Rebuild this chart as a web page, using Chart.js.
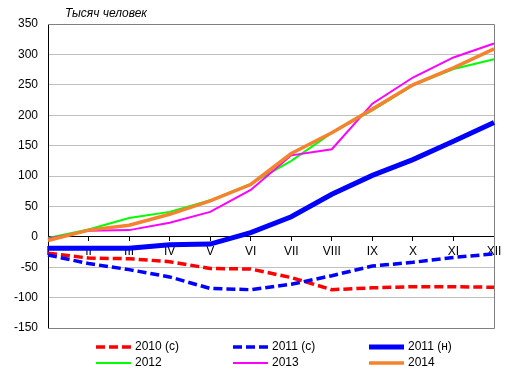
<!DOCTYPE html>
<html>
<head>
<meta charset="utf-8">
<script src="https://cdn.jsdelivr.net/npm/chart.js@4"></script>
<style>
html,body{margin:0;padding:0;background:#fff;}
#wrap{width:513px;height:382px;position:relative;}
</style>
</head>
<body>
<div id="wrap"><canvas id="c"></canvas></div>
<script>
const categories = ['I','II','III','IV','V','VI','VII','VIII','IX','X','XI','XII'];
const s2010c = [-27,-35,-36,-41,-52,-53,-67,-87,-84,-82,-82,-83];
const s2011c = [-30,-44,-54,-66,-85,-87,-78,-64,-48,-42,-34,-28];
const s2011n = [-19,-19,-19,-13,-12,7,33,70,101,127,157,188];
const s2012 = [-2,12,31,41,60,87,125,171,208,249,276,292];
const s2013 = [-3,10,11,23,41,77,134,144,219,262,295,318];
const s2014 = [-6,11,19,37,59,86,137,171,210,250,278,309];
const seriesLabels = ['2010 (с)','2011 (с)','2011 (н)','2012','2013','2014'];
const yTitle = 'Тысяч человек';

const FONT = '"Liberation Sans", Arial, sans-serif';

const styles = [
  {color:'#ff0000', width:3.5, dash:[9,4]},
  {color:'#0000ff', width:3.5, dash:[9,4]},
  {color:'#0000ff', width:5, dash:[]},
  {color:'#00ff00', width:2, dash:[]},
  {color:'#ff00ff', width:2, dash:[]},
  {color:'#f5822e', width:3.5, dash:[]}
];
const values = [s2010c, s2011c, s2011n, s2012, s2013, s2014];

const datasets = values.map((v,i)=>({
  label: seriesLabels[i],
  data: v,
  borderColor: styles[i].color,
  backgroundColor: styles[i].color,
  borderWidth: styles[i].width,
  borderDash: styles[i].dash,
  pointRadius: 0,
  tension: 0,
  fill: false,
  order: values.length - i
}));

const framePlugin = {
  id:'frame',
  beforeDatasetsDraw(chart){
    const {ctx, chartArea:a} = chart;
    ctx.save();
    ctx.strokeStyle = '#808080';
    ctx.lineWidth = 1;
    ctx.beginPath();
    ctx.moveTo(a.left, a.top+0.5);
    ctx.lineTo(a.right+0.5, a.top+0.5);
    ctx.lineTo(a.right+0.5, a.bottom+0.5);
    ctx.lineTo(a.left, a.bottom+0.5);
    ctx.stroke();
    ctx.restore();
  },
  afterDraw(chart){
    const ctx = chart.ctx;
    ctx.save();
    ctx.fillStyle = '#000';
    ctx.font = 'italic 12px ' + FONT;
    ctx.textBaseline = 'middle';
    ctx.textAlign = 'left';
    ctx.fillText(yTitle, 65, 14);
    // legend
    const cols = [96, 233, 369];
    const rows = [347, 363];
    chart.data.datasets.forEach((ds, i)=>{
      const x = cols[i%3], y = rows[Math.floor(i/3)];
      ctx.beginPath();
      ctx.strokeStyle = ds.borderColor;
      ctx.lineWidth = ds.borderWidth;
      ctx.setLineDash(ds.borderDash || []);
      ctx.moveTo(x, y);
      ctx.lineTo(x+35, y);
      ctx.stroke();
      ctx.setLineDash([]);
      ctx.fillStyle = '#000';
      ctx.font = '12px ' + FONT;
      ctx.fillText(ds.label, x+39, y);
    });
    ctx.restore();
  }
};

new Chart(document.getElementById('c'), {
  type:'line',
  data:{labels: categories, datasets},
  options:{
    responsive:true,
    maintainAspectRatio:false,
    animation:false,
    layout:{padding:{left:0, right:19, top:24, bottom:54}},
    plugins:{legend:{display:false}, tooltip:{enabled:false}},
    scales:{
      x:{
        type:'category',
        offset:false,
        position:{y:0},
        grid:{drawOnChartArea:false, drawTicks:true, tickLength:4, color:'#000'},
        border:{color:'#000', width:1},
        ticks:{autoSkip:false, maxRotation:0, padding:4, color:'#000', font:{family:FONT, size:12}},
        afterFit(s){ s.height = 0; }
      },
      y:{
        min:-150, max:350,
        ticks:{stepSize:50, padding:10, color:'#000', font:{family:FONT, size:12}},
        grid:{color:'#c0c0c0', drawTicks:false},
        border:{color:'#000', width:1},
        afterFit(s){ s.width = 48; }
      }
    }
  },
  plugins:[framePlugin]
});
</script>
</body>
</html>
